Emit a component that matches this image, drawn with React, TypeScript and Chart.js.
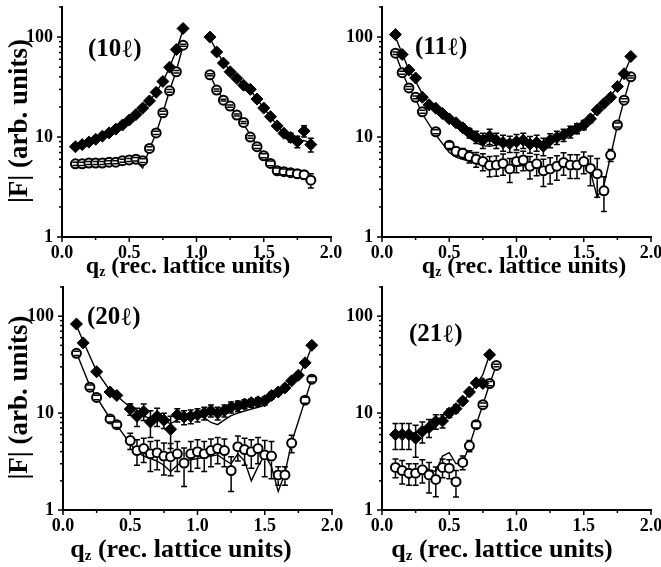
import React, { useEffect, useRef } from "react";
import { Chart, registerables } from "chart.js";

Chart.register(...registerables);

const SERIF = '"Liberation Serif", "Times New Roman", Times, serif';

// ---------- (10ℓ) ----------
const q10 = [0.1, 0.15, 0.2, 0.25, 0.3, 0.35, 0.4, 0.45, 0.5, 0.55, 0.6, 0.65, 0.7, 0.75, 0.8, 0.85, 0.9,
  1.1, 1.15, 1.2, 1.25, 1.3, 1.35, 1.4, 1.45, 1.5, 1.55, 1.6, 1.65, 1.7, 1.75, 1.8, 1.85];
const f10D = [8.0, 8.4, 8.9, 9.5, 10.2, 11.0, 12.0, 13.2, 14.8, 16.8, 19.5, 23, 28, 36, 50, 75, 122,
  100, 71, 55, 45, 38.6, 33, 30, 24, 19.5, 16, 12.9, 10.9, 9.9, 9.0, 11.5, 8.4];
const e10D = [0.3, 0.3, 0.3, 0.3, 0.4, 0.4, 0.4, 0.4, 0.5, 0.5, 0.6, 0.7, 0.8, 1, 1.5, 2, 3,
  3, 2, 1.5, 1.2, 1, 1, 1, 0.8, 0.7, 0.6, 0.6, 0.6, 1.0, 1.2, 1.5, 1.3];
const fit10D = [8.0, 8.4, 8.9, 9.5, 10.2, 11.0, 12.0, 13.2, 14.8, 16.8, 19.5, 23, 28, 36, 50, 74, 118,
  98, 72, 56, 46, 39, 34, 29.5, 24, 19.5, 16, 13, 11, 10, 9.3, 9.2, 8.8];
const f10C = [5.4, 5.4, 5.5, 5.5, 5.5, 5.6, 5.6, 5.8, 5.9, 6.0, 5.8, 7.7, 11, 17.5, 29, 45, 83,
  42, 29.5, 23.4, 20.4, 16.6, 14, 10, 8.0, 6.5, 5.45, 4.6, 4.5, 4.4, 4.3, 4.2, 3.7];
const e10C = [0.2, 0.2, 0.2, 0.2, 0.2, 0.2, 0.2, 0.2, 0.2, 0.25, 0.25, 0.3, 0.4, 0.6, 0.9, 1.2, 2,
  1, 0.7, 0.5, 0.5, 0.4, 0.3, 0.3, 0.3, 0.3, 0.3, 0.3, 0.3, 0.3, 0.4, 0.4, 0.6];
const fit10C = [5.3, 5.35, 5.4, 5.45, 5.5, 5.55, 5.6, 5.7, 5.8, 5.7, 4.9, 7.6, 11, 17.5, 29, 46, 82,
  42, 30, 24, 20, 16.5, 13.5, 10.5, 8.2, 6.6, 5.4, 4.7, 4.5, 4.4, 4.3, 4.1, 3.9];

// ---------- (11ℓ) ----------
const q11D = [0.1, 0.15, 0.2, 0.25, 0.3, 0.35, 0.4, 0.45, 0.5, 0.55, 0.6, 0.65, 0.7, 0.75, 0.8, 0.85, 0.9, 0.95,
  1.0, 1.05, 1.1, 1.15, 1.2, 1.25, 1.3, 1.35, 1.4, 1.45, 1.5, 1.55, 1.6, 1.65, 1.7, 1.75, 1.8, 1.85];
const f11D = [106, 67, 46.8, 39, 25, 21, 19.4, 17.2, 15.2, 13.9, 12.4, 11.0, 10, 9.3, 10.2, 9.3, 8.8, 8.6,
  9.0, 9.3, 8.5, 8.8, 8.1, 9.3, 9.9, 10.5, 11.3, 12.2, 13.2, 15.2, 18.6, 21.6, 25, 32, 43, 64];
const e11D = [3, 2, 1.5, 1.2, 1, 0.8, 0.8, 0.8, 0.8, 0.9, 1, 1.2, 1.4, 1.6, 1.8, 1.6, 1.6, 1.6,
  1.6, 1.6, 1.6, 1.6, 1.6, 1.5, 1.5, 1.5, 1.5, 1.4, 1.4, 1.2, 1.2, 1.2, 1.2, 1.5, 2, 3];
const fit11D = [100, 68, 47, 36, 27, 22, 19, 16.5, 14.5, 12.8, 11.2, 9.8, 8.8, 8.2, 8.1, 8.3, 8.6, 8.8,
  8.9, 8.9, 8.8, 8.7, 8.8, 9.3, 10, 10.7, 11.5, 12.4, 13.5, 15.3, 18, 21.5, 25.5, 32, 43, 62];
const q11C = [0.1, 0.15, 0.2, 0.25, 0.3, 0.4, 0.5, 0.55, 0.6, 0.65, 0.7, 0.75, 0.8, 0.85, 0.9, 0.95, 1.0,
  1.05, 1.1, 1.15, 1.2, 1.25, 1.3, 1.35, 1.4, 1.45, 1.5, 1.55, 1.6, 1.65, 1.7, 1.75, 1.8, 1.85];
const f11C = [69, 44, 31, 25, 17.9, 11.3, 8.3, 7.2, 6.9, 6.4, 6.0, 5.7, 5.2, 5.25, 5.45, 4.8, 5.7,
  5.9, 5.1, 5.4, 4.6, 4.8, 5.1, 5.55, 5.25, 5.25, 5.7, 4.85, 4.3, 2.9, 6.6, 13.2, 23.4, 40];
const e11C = [2, 1.5, 1, 0.8, 0.6, 0.5, 0.6, 0.7, 0.8, 0.9, 1.0, 1.1, 1.2, 1.2, 1.3, 1.3, 1.3,
  1.3, 1.3, 1.3, 1.4, 1.4, 1.4, 1.4, 1.4, 1.4, 1.4, 1.6, 1.8, 1.1, 0.9, 0.6, 0.8, 1];
const fit11C = [68, 45, 31, 24, 17, 10.5, 7.0, 6.3, 6.0, 5.7, 5.4, 5.2, 5.0, 5.0, 5.0, 5.0, 5.1,
  5.2, 5.2, 5.1, 5.0, 5.0, 5.0, 5.1, 5.2, 5.3, 5.4, 4.5, 2.5, 3.3, 6.5, 13, 23.5, 40];

// ---------- (20ℓ) ----------
const q20D = [0.1, 0.15, 0.25, 0.35, 0.4, 0.5, 0.55, 0.6, 0.65, 0.7, 0.75, 0.8, 0.85, 0.9, 0.95, 1.0,
  1.05, 1.1, 1.15, 1.2, 1.25, 1.3, 1.35, 1.4, 1.45, 1.5, 1.55, 1.6, 1.65, 1.7, 1.75, 1.8, 1.85];
const f20D = [83, 53, 26.7, 16.5, 15.2, 11, 9.25, 10.4, 8.1, 9.25, 8.45, 6.8, 9.6, 9.1, 9.25, 9.6,
  10, 10.6, 10, 10.6, 11.5, 11.8, 12.4, 12.8, 13.1, 13.4, 15.2, 16.5, 18.2, 21.5, 24.6, 33, 50];
const e20D = [3, 2, 1.2, 1, 1, 1.5, 2, 2, 2.5, 2, 1.5, 2.5, 1.5, 1.5, 1.5, 1.5,
  1.5, 1.5, 1.5, 1.5, 1.5, 1.5, 1.3, 1.3, 1.3, 1.3, 1.2, 1.2, 1.2, 1.2, 1.5, 2, 3];
const fit20D = [80, 55, 27, 17, 15, 11.5, 10, 9.3, 8.8, 8.5, 8.2, 7.8, 8.5, 9.0, 9.2, 9.4,
  9.0, 8.0, 7.6, 8.5, 9.4, 10, 10.5, 11, 11.5, 12, 14, 16, 18, 21, 24.5, 32, 49];
const q20C = [0.1, 0.2, 0.25, 0.35, 0.4, 0.5, 0.55, 0.6, 0.65, 0.7, 0.75, 0.8, 0.85, 0.9, 0.95, 1.0,
  1.05, 1.1, 1.15, 1.2, 1.25, 1.3, 1.35, 1.4, 1.45, 1.5, 1.55, 1.6, 1.65, 1.7, 1.8, 1.85];
const f20C = [41.4, 18.5, 14.5, 8.7, 7.6, 5.2, 4.1, 4.3, 3.8, 3.9, 3.6, 3.55, 3.8, 3.05, 3.8, 4.0,
  3.8, 4.1, 4.3, 4.1, 2.55, 4.5, 4.2, 4.0, 4.3, 3.7, 3.6, 2.3, 2.3, 4.9, 13.6, 22.4];
const e20C = [2, 1, 0.8, 0.6, 0.5, 1, 1.2, 1.2, 1.3, 1.3, 1.3, 1.3, 1.3, 1.3, 1.3, 1.3,
  1.3, 1.3, 1.3, 1.3, 1.0, 1.3, 1.3, 1.3, 1.3, 1.5, 1.5, 0.5, 0.5, 1.0, 1.0, 1.5];
const fit20C = [42, 19, 14.5, 8.8, 7.5, 4.8, 4.0, 3.6, 3.4, 3.2, 2.9, 2.5, 2.9, 3.2, 3.3, 3.4,
  3.5, 3.6, 3.7, 3.3, 3.0, 3.8, 3.2, 2.0, 2.8, 3.7, 2.8, 1.55, 2.4, 5.0, 13.6, 22.5];

// ---------- (21ℓ) ----------
const q21D = [0.1, 0.15, 0.2, 0.25, 0.3, 0.35, 0.4, 0.45, 0.5, 0.55, 0.6, 0.65, 0.7, 0.75, 0.8];
const f21D = [6.0, 6.0, 6.0, 5.5, 6.5, 7.1, 8.2, 8.3, 10, 11.1, 13.3, 16.5, 20.5, 20.2, 40];
const e21D = [1.8, 1.8, 1.8, 2.0, 1.6, 1.5, 1.4, 1.3, 1.0, 1.0, 1.0, 1.0, 1.0, 1.2, 2];
const fit21D = [5.9, 6.0, 6.1, 6.3, 6.6, 7.1, 7.7, 8.5, 9.5, 11, 13, 15.8, 19.5, 25, 40];
const q21C = [0.1, 0.15, 0.2, 0.25, 0.3, 0.35, 0.4, 0.45, 0.5, 0.55, 0.6, 0.65, 0.7, 0.75, 0.8, 0.85];
const f21C = [2.75, 2.55, 2.4, 2.4, 2.6, 2.3, 2.07, 2.75, 2.7, 1.96, 3.1, 4.6, 7.6, 12.2, 20.2, 31];
const e21C = [0.6, 0.7, 0.6, 0.6, 0.7, 0.8, 0.7, 0.6, 0.6, 0.6, 0.5, 0.6, 0.6, 0.5, 1, 1];
const fit21C = [2.8, 2.5, 2.1, 2.4, 2.8, 2.6, 2.5, 3.6, 3.9, 3.0, 3.1, 4.6, 7.6, 12.2, 20, 31];

// axis
const X_MIN = 0, X_MAX = 2.0, X_STEP = 0.25;
const Y_MIN = 1, Y_MAX = 200;
const Y_LABELS = [1, 10, 100];

type Pt = { x: number; y: number | null; e?: number };
function pts(xs: number[], ys: number[], es?: number[]): Pt[] {
  const out: Pt[] = [];
  xs.forEach((x, i) => {
    if (i > 0 && x - xs[i - 1] > 0.15) out.push({ x: (x + xs[i - 1]) / 2, y: null });
    out.push({ x, y: ys[i], e: es ? es[i] : undefined });
  });
  return out;
}

interface Spec {
  tag: string;
  box: { left: number; top: number; width: number; height: number };
  area: { left: number; top: number; right: number; bottom: number };
  yTitle: boolean;
  tagDx: number; tagDy: number;
  xTitleDx: number; xTitleDy: number; xTitleSize: number;
  dq: number[]; df: number[]; de: number[]; dfit: number[];
  cq: number[]; cf: number[]; ce: number[]; cfit: number[];
}

const specs: Spec[] = [
  {
    tag: "10", box: { left: 0, top: 0, width: 360, height: 280 },
    area: { left: 62, top: 7, right: 331, bottom: 237 }, yTitle: true,
    tagDx: 26, tagDy: 43, xTitleDx: 126, xTitleDy: 29, xTitleSize: 24,
    dq: q10, df: f10D, de: e10D, dfit: fit10D, cq: q10, cf: f10C, ce: e10C, cfit: fit10C,
  },
  {
    tag: "11", box: { left: 330, top: 0, width: 331, height: 280 },
    area: { left: 52, top: 7, right: 321, bottom: 237 }, yTitle: false,
    tagDx: 33, tagDy: 41, xTitleDx: 142, xTitleDy: 29, xTitleSize: 24,
    dq: q11D, df: f11D, de: e11D, dfit: fit11D, cq: q11C, cf: f11C, ce: e11C, cfit: fit11C,
  },
  {
    tag: "20", box: { left: 0, top: 280, width: 360, height: 287 },
    area: { left: 63, top: 0, right: 332, bottom: 230 }, yTitle: true,
    tagDx: 24, tagDy: 31, xTitleDx: 118, xTitleDy: 39, xTitleSize: 26,
    dq: q20D, df: f20D, de: e20D, dfit: fit20D, cq: q20C, cf: f20C, ce: e20C, cfit: fit20C,
  },
  {
    tag: "21", box: { left: 330, top: 280, width: 331, height: 287 },
    area: { left: 52, top: 0, right: 321, bottom: 230 }, yTitle: false,
    tagDx: 27, tagDy: 48, xTitleDx: 120, xTitleDy: 39, xTitleSize: 26,
    dq: q21D, df: f21D, de: e21D, dfit: fit21D, cq: q21C, cf: f21C, ce: e21C, cfit: fit21C,
  },
];

const decoPlugin = {
  id: "deco",
  afterDatasetsDraw(chart: any) {
    const ctx = chart.ctx as CanvasRenderingContext2D;
    const ys = chart.scales.y;
    const a = chart.chartArea;
    ctx.save();
    ctx.beginPath();
    ctx.rect(a.left - 8, a.top, a.right - a.left + 16, a.bottom - a.top);
    ctx.clip();
    ctx.strokeStyle = "#000";
    ctx.lineWidth = 1.5;
    chart.data.datasets.forEach((ds: any, i: number) => {
      if (!ds.errorBars) return;
      const meta = chart.getDatasetMeta(i);
      const r = ds.errGap || 0;
      meta.data.forEach((el: any, j: number) => {
        const raw = ds.data[j];
        if (!raw || raw.y == null || !raw.e) return;
        const px = el.x, py = el.y;
        const top = ys.getPixelForValue(raw.y + raw.e);
        const bot = ys.getPixelForValue(Math.max(raw.y - raw.e, 1.02));
        ctx.beginPath();
        if (top < py - r) { ctx.moveTo(px, top); ctx.lineTo(px, py - r); }
        if (bot > py + r) { ctx.moveTo(px, py + r); ctx.lineTo(px, bot); }
        ctx.moveTo(px - 3, top); ctx.lineTo(px + 3, top);
        ctx.moveTo(px - 3, bot); ctx.lineTo(px + 3, bot);
        ctx.stroke();
      });
    });
    ctx.restore();
  },
  afterDraw(chart: any) {
    const ctx = chart.ctx as CanvasRenderingContext2D;
    const o = chart.options.plugins.deco as Spec;
    const xs = chart.scales.x, ys = chart.scales.y;
    const a = chart.chartArea;
    ctx.save();
    ctx.strokeStyle = "#000";
    ctx.lineWidth = 1.5;
    // x ticks (outward)
    for (let k = 0; X_MIN + k * X_STEP <= X_MAX + 1e-9; k++) {
      const v = X_MIN + k * X_STEP;
      const px = xs.getPixelForValue(v);
      const major = k % 2 === 0;
      ctx.beginPath();
      ctx.moveTo(px, a.bottom);
      ctx.lineTo(px, a.bottom + (major ? 5 : 3));
      ctx.stroke();
    }
    // y ticks (outward)
    for (let d = 1; d <= Y_MAX; d *= 10) {
      for (let m = 1; m <= 9; m++) {
        const v = m * d;
        if (v > Y_MAX + 1e-9) break;
        const py = ys.getPixelForValue(v);
        ctx.beginPath();
        ctx.moveTo(a.left, py);
        ctx.lineTo(a.left - (m === 1 ? 5 : 3), py);
        ctx.stroke();
      }
    }
    ctx.fillStyle = "#000";
    // panel tag "(10ℓ)"
    ctx.textBaseline = "middle";
    ctx.textAlign = "left";
    let tx = a.left + o.tagDx;
    const ty = a.top + o.tagDy;
    const bold = `bold 25px ${SERIF}`;
    const plain = `25px ${SERIF}`;
    ctx.font = bold;
    const p1 = "(" + o.tag;
    ctx.fillText(p1, tx, ty);
    tx += ctx.measureText(p1).width;
    ctx.font = plain;
    ctx.fillText("\u2113", tx, ty);
    tx += ctx.measureText("\u2113").width;
    ctx.font = bold;
    ctx.fillText(")", tx, ty);

    // x title: q_z (rec. lattice units)
    const sz = o.xTitleSize;
    const big = `bold ${sz}px ${SERIF}`;
    const small = `bold ${Math.round(sz * 0.58)}px ${SERIF}`;
    const rest = " (rec. lattice units)";
    ctx.font = big;
    const wq = ctx.measureText("q").width;
    const wr = ctx.measureText(rest).width;
    ctx.font = small;
    const wz = ctx.measureText("z").width;
    const total = wq + wz + wr;
    const cx = a.left + o.xTitleDx;
    const cy = a.bottom + o.xTitleDy;
    let x0 = cx - total / 2;
    ctx.textBaseline = "alphabetic";
    const base = cy + sz * 0.3;
    ctx.font = big;
    ctx.fillText("q", x0, base);
    x0 += wq;
    ctx.font = small;
    ctx.fillText("z", x0, base + 3);
    x0 += wz;
    ctx.font = big;
    ctx.fillText(rest, x0, base);

    if (o.yTitle) {
      ctx.save();
      ctx.translate(20, (a.top + a.bottom) / 2 - 1);
      ctx.rotate(-Math.PI / 2);
      ctx.textAlign = "center";
      ctx.textBaseline = "middle";
      ctx.font = `bold 27px ${SERIF}`;
      ctx.fillText("|F| (arb. units)", 0, 0);
      ctx.restore();
    }
    ctx.restore();
  },
};

function makeConfig(s: Spec): any {
  const yW = s.area.left;
  const xH = s.box.height - s.area.bottom;
  const tickFont = { family: SERIF, size: 18, weight: "bold" as const };
  return {
    type: "scatter",
    data: {
      datasets: [
        {
          type: "scatter",
          data: pts(s.dq, s.df, s.de),
          pointStyle: "rectRot",
          pointRadius: 6,
          backgroundColor: "#000",
          borderColor: "#000",
          borderWidth: 1,
          errorBars: true,
          errGap: 0,
          order: 0,
        },
        {
          type: "scatter",
          data: pts(s.cq, s.cf, s.ce),
          pointStyle: "circle",
          pointRadius: 4.5,
          backgroundColor: "#fff",
          borderColor: "#000",
          borderWidth: 2,
          errorBars: true,
          errGap: 5.5,
          order: 1,
        },
        {
          type: "line",
          data: pts(s.dq, s.dfit),
          borderColor: "#000",
          borderWidth: 1.4,
          pointRadius: 0,
          showLine: true,
          spanGaps: false,
          tension: 0,
          order: 2,
        },
        {
          type: "line",
          data: pts(s.cq, s.cfit),
          borderColor: "#000",
          borderWidth: 1.4,
          pointRadius: 0,
          showLine: true,
          spanGaps: false,
          tension: 0,
          order: 3,
        },
      ],
    },
    options: {
      animation: false,
      responsive: false,
      events: [],
      layout: {
        padding: {
          left: 0,
          top: s.area.top,
          right: s.box.width - s.area.right,
          bottom: 0,
        },
      },
      plugins: {
        legend: { display: false },
        tooltip: { enabled: false },
        deco: s,
      },
      scales: {
        x: {
          type: "linear",
          min: X_MIN,
          max: X_MAX,
          grid: { display: false, drawTicks: false },
          border: { display: true, color: "#000", width: 2 },
          ticks: {
            stepSize: X_STEP,
            autoSkip: false,
            maxRotation: 0,
            padding: 6,
            color: "#000",
            font: tickFont,
            callback: (v: number) => (Math.abs(v * 2 - Math.round(v * 2)) < 1e-6 ? v.toFixed(1) : ""),
          },
          afterFit: (sc: any) => {
            sc.height = xH;
            sc.paddingLeft = 0; sc.paddingRight = 0; sc.paddingTop = 0; sc.paddingBottom = 0;
          },
        },
        y: {
          type: "logarithmic",
          min: Y_MIN,
          max: Y_MAX,
          grid: { display: false, drawTicks: false },
          border: { display: true, color: "#000", width: 2 },
          ticks: {
            autoSkip: false,
            padding: 9,
            color: "#000",
            font: tickFont,
            callback: (v: number) => (Y_LABELS.includes(v) ? String(v) : ""),
          },
          afterFit: (sc: any) => {
            sc.width = yW;
            sc.paddingLeft = 0; sc.paddingRight = 0; sc.paddingTop = 0; sc.paddingBottom = 0;
          },
        },
      },
    },
    plugins: [decoPlugin],
  };
}

function Panel({ spec }: { spec: Spec }) {
  const ref = useRef<HTMLCanvasElement>(null);
  useEffect(() => {
    const c = ref.current;
    if (!c) return;
    const chart = new Chart(c, makeConfig(spec));
    return () => chart.destroy();
  }, [spec]);
  return (
    <canvas
      ref={ref}
      width={spec.box.width}
      height={spec.box.height}
      style={{
        position: "absolute",
        left: spec.box.left,
        top: spec.box.top,
        width: spec.box.width,
        height: spec.box.height,
      }}
    />
  );
}

export default function App() {
  return (
    <div
      style={{
        position: "absolute",
        left: 0,
        top: 0,
        width: 661,
        height: 567,
        background: "#fff",
        overflow: "hidden",
      }}
    >
      {specs.map((s) => (
        <Panel key={s.tag} spec={s} />
      ))}
    </div>
  );
}
